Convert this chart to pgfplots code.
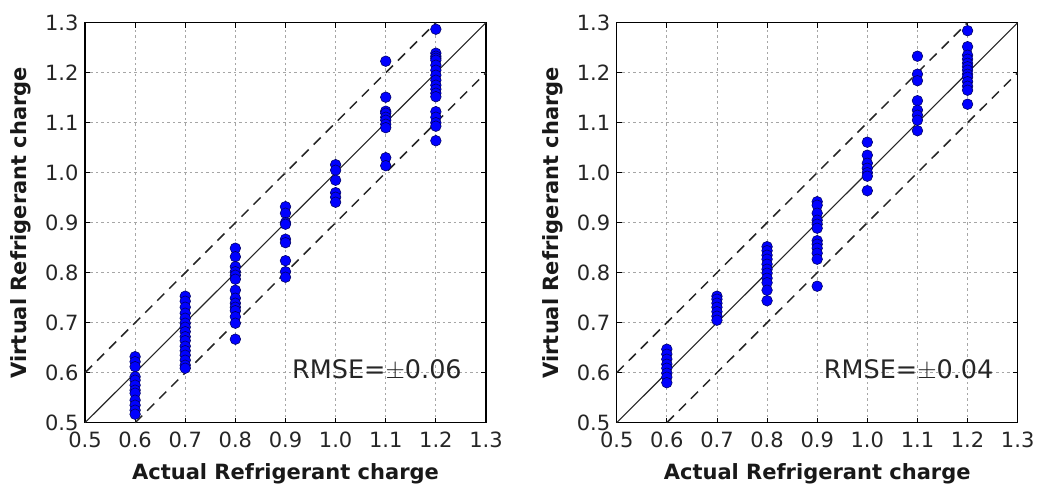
\documentclass[border=0pt]{standalone}
\usepackage{pgfplots}
\pgfplotsset{compat=1.18}
\usepackage{fontspec}
\setmainfont{DejaVu Sans}

% 1 pt here = 1 px of the reference
\pgfplotsset{
  refax/.style={
    scale only axis,
    width=401pt, height=400pt,
    anchor=south west,
    xmin=0.5, xmax=1.3, ymin=0.5, ymax=1.3,
    xtick={0.5,0.6,...,1.31}, ytick={0.5,0.6,...,1.31},
    tick label style={font=\fontsize{21}{24}\selectfont, text=black!85},
    /pgf/number format/assume math mode=true,
    /pgf/number format/.cd, fixed, fixed zerofill, precision=1, /pgfplots/.cd,
    grid=major,
    major grid style={gray!70, line width=0.9pt, dash pattern=on 2.5pt off 3pt},
    major tick length=5pt,
    tick style={black, line width=0.9pt},
    axis line style={line width=1.4pt},
    xticklabel style={yshift=-6pt},
    yticklabel style={xshift=-3pt},
    xlabel={\bfseries Actual Refrigerant charge},
    ylabel={\bfseries Virtual Refrigerant charge},
    label style={font=\fontsize{21}{24}\selectfont, text=black!90},
    xlabel style={yshift=-9pt},
    ylabel style={yshift=7pt},
    clip=false,
  },
  pts/.style={only marks, mark=*, mark size=5.3pt,
    mark options={fill=blue, draw=black!60!blue, line width=0.6pt}},
  diag/.style={black!85, line width=1.1pt},
  band/.style={black!85, line width=1.5pt, dash pattern=on 10pt off 7pt},
}

\begin{document}
\begin{tikzpicture}
\path[use as bounding box] (0,0) rectangle (1037pt,483pt);

\begin{axis}[refax, at={(85pt,60.3pt)}]
\addplot[diag] coordinates {(0.5,0.5) (1.3,1.3)};
\addplot[band] coordinates {(0.5,0.6) (1.2,1.3)};
\addplot[band] coordinates {(0.6,0.5) (1.3,1.2)};
\addplot[pts] coordinates {
 (0.6,0.632) (0.6,0.622) (0.6,0.612) (0.6,0.592) (0.6,0.585) (0.6,0.575)
 (0.6,0.565) (0.6,0.559) (0.6,0.545) (0.6,0.535) (0.6,0.525) (0.6,0.517)
 (0.7,0.753) (0.7,0.743) (0.7,0.731) (0.7,0.719) (0.7,0.709) (0.7,0.699)
 (0.7,0.691) (0.7,0.682) (0.7,0.672) (0.7,0.664) (0.7,0.653) (0.7,0.644)
 (0.7,0.635) (0.7,0.625) (0.7,0.615) (0.7,0.609)
 (0.8,0.849) (0.8,0.832) (0.8,0.812) (0.8,0.802) (0.8,0.795) (0.8,0.787)
 (0.8,0.765) (0.8,0.749) (0.8,0.739) (0.8,0.731) (0.8,0.724) (0.8,0.712)
 (0.8,0.699) (0.8,0.667)
 (0.9,0.932) (0.9,0.919) (0.9,0.900) (0.9,0.897) (0.9,0.867) (0.9,0.860)
 (0.9,0.824) (0.9,0.802) (0.9,0.791)
 (1.0,1.016) (1.0,1.005) (1.0,0.985) (1.0,0.960) (1.0,0.951) (1.0,0.941)
 (1.1,1.223) (1.1,1.151) (1.1,1.123) (1.1,1.119) (1.1,1.111) (1.1,1.105)
 (1.1,1.097) (1.1,1.090) (1.1,1.030) (1.1,1.014)
 (1.2,1.287) (1.2,1.239) (1.2,1.233) (1.2,1.229) (1.2,1.225) (1.2,1.215)
 (1.2,1.205) (1.2,1.195) (1.2,1.185) (1.2,1.175) (1.2,1.167) (1.2,1.159)
 (1.2,1.152) (1.2,1.122) (1.2,1.111) (1.2,1.100) (1.2,1.093) (1.2,1.064)
};
\node[anchor=west, inner sep=0pt, font=\fontsize{25.5}{30}\selectfont, text=black!85]
  at (axis cs:0.913,0.6055) {RMSE=$\pm$0.06};
\end{axis}

\begin{axis}[refax, at={(616.7pt,60.3pt)}]
\addplot[diag] coordinates {(0.5,0.5) (1.3,1.3)};
\addplot[band] coordinates {(0.5,0.6) (1.2,1.3)};
\addplot[band] coordinates {(0.6,0.5) (1.3,1.2)};
\addplot[pts] coordinates {
 (0.6,0.647) (0.6,0.637) (0.6,0.627) (0.6,0.617) (0.6,0.609) (0.6,0.599)
 (0.6,0.591) (0.6,0.580)
 (0.7,0.753) (0.7,0.747) (0.7,0.739) (0.7,0.731) (0.7,0.722) (0.7,0.713)
 (0.7,0.705)
 (0.8,0.852) (0.8,0.844) (0.8,0.835) (0.8,0.827) (0.8,0.817) (0.8,0.807)
 (0.8,0.799) (0.8,0.789) (0.8,0.780) (0.8,0.765) (0.8,0.744)
 (0.9,0.942) (0.9,0.935) (0.9,0.919) (0.9,0.905) (0.9,0.897) (0.9,0.889)
 (0.9,0.864) (0.9,0.857) (0.9,0.849) (0.9,0.839) (0.9,0.827) (0.9,0.773)
 (1.0,1.061) (1.0,1.035) (1.0,1.019) (1.0,1.009) (1.0,1.000) (1.0,0.993)
 (1.0,0.964)
 (1.1,1.233) (1.1,1.197) (1.1,1.184) (1.1,1.144) (1.1,1.125) (1.1,1.115)
 (1.1,1.105) (1.1,1.084)
 (1.2,1.284) (1.2,1.252) (1.2,1.235) (1.2,1.227) (1.2,1.219) (1.2,1.212)
 (1.2,1.205) (1.2,1.197) (1.2,1.191) (1.2,1.182) (1.2,1.173) (1.2,1.165)
 (1.2,1.137)
};
\node[anchor=west, inner sep=0pt, font=\fontsize{25.5}{30}\selectfont, text=black!85]
  at (axis cs:0.913,0.6055) {RMSE=$\pm$0.04};
\end{axis}
\end{tikzpicture}
\end{document}
